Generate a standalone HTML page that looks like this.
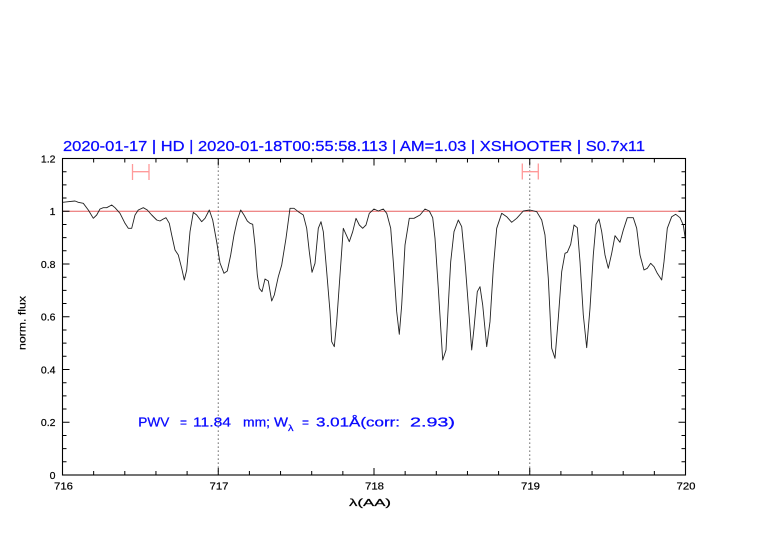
<!DOCTYPE html>
<html>
<head>
<meta charset="utf-8">
<style>
html,body{margin:0;padding:0;background:#fff;}
svg{display:block;}
text{font-family:"Liberation Sans",sans-serif;}
</style>
</head>
<body>
<svg width="782" height="542" viewBox="0 0 782 542" xmlns="http://www.w3.org/2000/svg">
<rect x="0" y="0" width="782" height="542" fill="#fff"/>

<!-- title -->
<text x="63" y="151" font-size="14.5" fill="#0a0aff" stroke="#0a0aff" stroke-width="0.25" textLength="582" lengthAdjust="spacingAndGlyphs">2020-01-17 | HD | 2020-01-18T00:55:58.113 | AM=1.03 | XSHOOTER | S0.7x11</text>

<!-- 1.0 reference line -->
<line x1="62.5" y1="211.25" x2="685.5" y2="211.25" stroke="#e86060" stroke-width="1"/>

<!-- dotted lines -->
<line x1="218.25" y1="158.5" x2="218.25" y2="475" stroke="#444" stroke-width="1" stroke-dasharray="1.2,2.8"/>
<line x1="529.75" y1="158.5" x2="529.75" y2="475" stroke="#444" stroke-width="1" stroke-dasharray="1.2,2.8"/>

<!-- error bars -->
<g stroke="#ff9a9a" stroke-width="1.3" fill="none">
<path d="M132.5 171.7 H149 M132.5 164 V180 M149 164 V180"/>
<path d="M522.3 171.7 H538.3 M522.3 163.5 V179.5 M538.3 163.5 V179.5"/>
</g>

<!-- spectrum -->
<polyline fill="none" stroke="#222" stroke-width="0.9" stroke-linejoin="round" points="
62.7,202.3 68.3,201.7 75,201 78.3,202.3 83.3,203.3 88.3,210 93.3,218.3 96.7,215 100,209 103.3,207.7 106.7,207.7 111.7,205 115,207.7 120,213.3 125,223.3 128.3,228.3 131.7,228.3 135,215 138.3,210 143.3,207.7 147.3,210 151.7,215 156.7,220 160,221 163.3,219 166,217.7 169.3,223.3 171.7,235 175,250 178.3,255 181.7,268.3 184.3,280 186.7,270 190,231.7 193.3,212.3 196.7,215 201.7,221.7 205,218.3 209.3,210 212.7,220 216.7,242 220,263 224,273.3 227.3,271 230.7,255 234,235 237.3,220 240.7,210 244,215 247.3,221 250,223.3 252.7,224.3 255,245 257.3,275 259.3,288.3 262,291.7 265,279 268.3,281 271.7,301 274.3,295 278.3,276.7 281.7,265 286,238.3 290,208.3 294,208.3 298.3,211.7 303.3,215 306.7,228.3 309.3,251.7 312,272.3 315,263.3 318.3,228.3 321,221.7 323.3,231.7 326.7,271.7 330,311.7 331.7,341.7 334.3,346.7 336.7,321.7 340,275 343.3,228.3 349.3,241.7 352.7,231.7 356,218.3 359.3,225 362.7,228.3 366,225 369.3,213.3 374,209 378.3,211 383.3,209 386.7,213.3 390.7,228.3 393.3,261.7 396.7,311.7 399.3,334.3 401.7,305 405,245 409.3,218.3 414,218.3 420,215 425,209 429.3,211 432.7,217.7 435,238.3 438.3,288.3 442.7,360 446,350 448.3,305 450.7,261.7 454,231.7 458.3,220 461.7,226.7 465,261.7 468.3,305 471.7,350 474,328.3 477.3,291.7 480,286.7 482.7,305 486.7,346.7 490,321.7 493.3,268.3 496.7,228.3 501.7,213.3 506.7,216.7 511.7,222.3 516.7,218.3 523.3,211 530,210 536.7,211.7 541.7,220 545,235 548.3,278.3 551.7,348.3 555,358.3 558.3,318.3 561.7,271.7 565,253.3 567.3,252.3 570.7,244.3 574,225 577.3,227.7 580,261.7 583.3,315 586.7,347.7 590,308.3 593.3,255 596,224.3 599,219 601.7,231.7 605,255 608.3,268.3 611.7,253.3 615,235.7 620,242.3 623.3,230 627.3,217.7 633.3,217.7 636.7,228.3 640,255 644,270 647.3,268.3 650.7,263.3 654,266.7 657.3,273.3 661.7,280 664,261.7 667.3,228.3 671.7,216.7 675.7,214.3 680,217.7 683.3,225 685.5,240"/>

<!-- frame -->
<rect x="62.5" y="158.5" width="623" height="316.5" fill="none" stroke="#000" stroke-width="1.1"/>

<!-- ticks -->
<g stroke="#000" stroke-width="1" fill="none">
<path d="M62.5 475 v-7 M93.65 475 v-4 M124.8 475 v-4 M155.95 475 v-4 M187.1 475 v-4 M218.25 475 v-7 M249.4 475 v-4 M280.55 475 v-4 M311.7 475 v-4 M342.85 475 v-4 M374 475 v-7 M405.15 475 v-4 M436.3 475 v-4 M467.45 475 v-4 M498.6 475 v-4 M529.75 475 v-7 M560.9 475 v-4 M592.05 475 v-4 M623.2 475 v-4 M654.35 475 v-4 M685.5 475 v-7"/>
<path d="M62.5 158.5 v7 M93.65 158.5 v4 M124.8 158.5 v4 M155.95 158.5 v4 M187.1 158.5 v4 M218.25 158.5 v7 M249.4 158.5 v4 M280.55 158.5 v4 M311.7 158.5 v4 M342.85 158.5 v4 M374 158.5 v7 M405.15 158.5 v4 M436.3 158.5 v4 M467.45 158.5 v4 M498.6 158.5 v4 M529.75 158.5 v7 M560.9 158.5 v4 M592.05 158.5 v4 M623.2 158.5 v4 M654.35 158.5 v4 M685.5 158.5 v7"/>
<path d="M62.5 475 h7 M62.5 461.81 h4 M62.5 448.63 h4 M62.5 435.44 h4 M62.5 422.25 h7 M62.5 409.06 h4 M62.5 395.88 h4 M62.5 382.69 h4 M62.5 369.5 h7 M62.5 356.31 h4 M62.5 343.13 h4 M62.5 329.94 h4 M62.5 316.75 h7 M62.5 303.56 h4 M62.5 290.38 h4 M62.5 277.19 h4 M62.5 264 h7 M62.5 250.81 h4 M62.5 237.63 h4 M62.5 224.44 h4 M62.5 211.25 h7 M62.5 198.06 h4 M62.5 184.88 h4 M62.5 171.69 h4 M62.5 158.5 h7"/>
<path d="M685.5 475 h-7 M685.5 461.81 h-4 M685.5 448.63 h-4 M685.5 435.44 h-4 M685.5 422.25 h-7 M685.5 409.06 h-4 M685.5 395.88 h-4 M685.5 382.69 h-4 M685.5 369.5 h-7 M685.5 356.31 h-4 M685.5 343.13 h-4 M685.5 329.94 h-4 M685.5 316.75 h-7 M685.5 303.56 h-4 M685.5 290.38 h-4 M685.5 277.19 h-4 M685.5 264 h-7 M685.5 250.81 h-4 M685.5 237.63 h-4 M685.5 224.44 h-4 M685.5 211.25 h-7 M685.5 198.06 h-4 M685.5 184.88 h-4 M685.5 171.69 h-4 M685.5 158.5 h-7"/>
</g>

<!-- y tick labels -->
<g font-size="10.5" fill="#000" stroke="#000" stroke-width="0.2" text-anchor="end">
<text x="55.5" y="162.5">1.2</text>
<text x="55.5" y="215.2">1</text>
<text x="55.5" y="268">0.8</text>
<text x="55.5" y="320.7">0.6</text>
<text x="55.5" y="373.5">0.4</text>
<text x="55.5" y="426.2">0.2</text>
<text x="55.5" y="479">0</text>
</g>

<!-- x tick labels -->
<g font-size="10.5" fill="#000" stroke="#000" stroke-width="0.2">
<text x="54" y="489.5" textLength="19" lengthAdjust="spacingAndGlyphs">716</text>
<text x="209.5" y="489.5" textLength="19" lengthAdjust="spacingAndGlyphs">717</text>
<text x="365" y="489.5" textLength="19" lengthAdjust="spacingAndGlyphs">718</text>
<text x="521" y="489.5" textLength="19" lengthAdjust="spacingAndGlyphs">719</text>
<text x="676.5" y="489.5" textLength="19" lengthAdjust="spacingAndGlyphs">720</text>
</g>

<!-- axis labels -->
<text x="349" y="506" font-size="10.5" fill="#000" stroke="#000" stroke-width="0.2" textLength="42" lengthAdjust="spacingAndGlyphs">λ(AA)</text>
<text transform="translate(25.5,350) rotate(-90)" font-size="10.5" fill="#000" stroke="#000" stroke-width="0.2" textLength="54" lengthAdjust="spacingAndGlyphs">norm. flux</text>

<!-- PWV annotation -->
<g font-size="12.5" fill="#0a0aff" stroke="#0a0aff" stroke-width="0.25">
<text x="138.3" y="426.7" textLength="31" lengthAdjust="spacingAndGlyphs">PWV</text>
<text x="180" y="426.7" textLength="7" lengthAdjust="spacingAndGlyphs">=</text>
<text x="193" y="426.7" textLength="38" lengthAdjust="spacingAndGlyphs">11.84</text>
<text x="243" y="426.7" textLength="27" lengthAdjust="spacingAndGlyphs">mm;</text>
<text x="274" y="426.7" textLength="14" lengthAdjust="spacingAndGlyphs">W</text>
<text x="288" y="431" font-size="9" textLength="5.5" lengthAdjust="spacingAndGlyphs">λ</text>
<text x="302" y="426.7" textLength="7" lengthAdjust="spacingAndGlyphs">=</text>
<text x="316" y="426.7" textLength="84" lengthAdjust="spacingAndGlyphs">3.01Å(corr:</text>
<text x="410" y="426.7" textLength="45" lengthAdjust="spacingAndGlyphs">2.93)</text>
</g>
</svg>
</body>
</html>
